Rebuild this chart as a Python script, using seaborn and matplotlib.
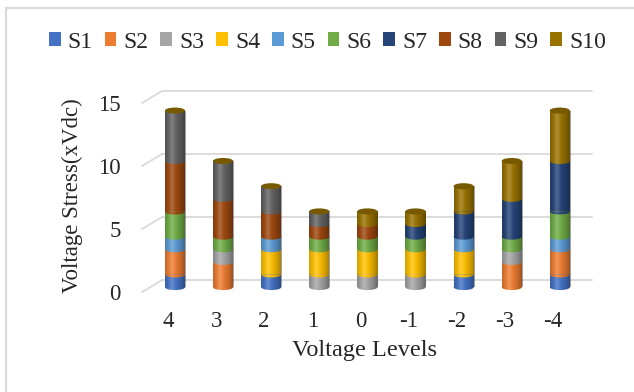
import numpy as np
import pandas as pd
import matplotlib
matplotlib.use("Agg")
import matplotlib.pyplot as plt
import matplotlib.transforms as mtransforms
from matplotlib.patches import Ellipse, Polygon
from matplotlib.lines import Line2D
from matplotlib.colors import to_rgb
import seaborn as sns

levels = ["4", "3", "2", "1", "0", "-1", "-2", "-3", "-4"]
series_names = ["S1", "S2", "S3", "S4", "S5", "S6", "S7", "S8", "S9", "S10"]
s1 = [1, 0, 1, 0, 0, 0, 1, 0, 1]
s2 = [2, 2, 0, 0, 0, 0, 0, 2, 2]
s3 = [0, 1, 0, 1, 1, 1, 0, 1, 0]
s4 = [0, 0, 2, 2, 2, 2, 2, 0, 0]
s5 = [1, 0, 1, 0, 0, 0, 1, 0, 1]
s6 = [2, 1, 0, 1, 1, 1, 0, 1, 2]
s7 = [0, 0, 0, 0, 0, 1, 2, 3, 4]
s8 = [4, 3, 2, 1, 1, 0, 0, 0, 0]
s9 = [4, 3, 2, 1, 0, 0, 0, 0, 0]
s10 = [0, 0, 0, 0, 1, 1, 2, 3, 4]
series_values = [s1, s2, s3, s4, s5, s6, s7, s8, s9, s10]
colors = ["#4472C4", "#ED7D31", "#A5A5A5", "#FFC000", "#5B9BD5",
          "#70AD47", "#264478", "#9E480E", "#636363", "#997300"]
y_ticks = [0, 5, 10, 15]

sns.set_theme(style="white")
plt.rcParams["font.family"] = ["Liberation Serif", "DejaVu Serif"]

W, H = 634, 392
fig = plt.figure(figsize=(W / 100, H / 100), dpi=100)

# axes box in pixels (bars' front plane: 0 at y=287, 12.6 px per unit)
XL, XR = -0.7, 8.7
YB, YT = -0.6, 15.8
ax_left, ax_right = 141.3, 593.5
ax_bottom, ax_top = 294.6, 87.9
ax = fig.add_axes([ax_left / W, 1 - ax_bottom / H,
                   (ax_right - ax_left) / W, (ax_bottom - ax_top) / H])

bar_w = 0.42
bottom = np.zeros(len(levels))
for name, vals, col in zip(series_names, series_values, colors):
    df = pd.DataFrame({"level": levels, "value": vals})
    sns.barplot(data=df, x="level", y="value", order=levels, color=col,
                width=bar_w, bottom=bottom, ax=ax, label=name,
                saturation=1, linewidth=0, zorder=2)
    bottom = bottom + np.array(vals)
totals = bottom

ax.set_xlim(XL, XR)
ax.set_ylim(YB, YT)

# cylinder shading profile across the bar width
u = np.linspace(0, 1, 64)
shade = np.zeros((1, 64, 4))
dark = 0.38 * np.clip(np.abs(u - 0.38) / 0.62, 0, 1) ** 1.6
light = 0.18 * np.exp(-((u - 0.33) / 0.14) ** 2)
alpha = dark + light
shade[0, :, :3] = (light / np.maximum(alpha, 1e-6))[:, None]
shade[0, :, 3] = alpha

ell_h = 0.48  # ellipse height in data units
theta = np.linspace(0, np.pi, 40)


def add_shade(x0, x1, y0, y1, clip):
    im = ax.imshow(shade, extent=(x0, x1, y0, y1), aspect="auto",
                   interpolation="bilinear", zorder=clip.get_zorder() + 0.01)
    im.set_clip_path(clip)


patches = list(ax.patches)
for p in patches:
    h = p.get_height()
    if h <= 0:
        continue
    x0 = p.get_x()
    x1 = x0 + p.get_width()
    y0 = p.get_y()
    y1 = y0 + h
    cx = (x0 + x1) / 2
    add_shade(x0, x1, y0, y1, p)
    # front arc at the bottom of each segment
    arc_x = cx + (bar_w / 2) * np.cos(theta)
    arc_y = y0 - (ell_h / 2) * np.sin(theta)
    poly = Polygon(np.column_stack([np.r_[arc_x, arc_x[::-1]],
                                    np.r_[arc_y, np.full_like(arc_y, y0 + 0.01)]]),
                   closed=True, facecolor=p.get_facecolor(), edgecolor="none",
                   zorder=2.2)
    ax.add_patch(poly)
    add_shade(x0, x1, y0 - ell_h / 2, y0 + 0.01, poly)

# top caps of the cylinders
cap_rgb = np.array(to_rgb(colors[-1])) * 0.78
for i, tot in enumerate(totals):
    cap = Ellipse((i, tot), bar_w, ell_h, facecolor=cap_rgb, edgecolor="none",
                  zorder=2.4)
    ax.add_patch(cap)

# back-wall gridlines with their short floor segments
grid_col = "#D9D9D9"
for t in y_ticks:
    ax.plot([-0.27, 8.67], [t + 0.55, t + 0.55], color=grid_col, lw=1.3,
            zorder=1, clip_on=False)
    ax.plot([-0.686, -0.27], [t - 0.4, t + 0.55], color=grid_col, lw=1.3,
            zorder=1, clip_on=False)

ax.set_yticks(y_ticks)
ax.set_yticklabels([str(t) for t in y_ticks], fontsize=16.5)
ax.tick_params(axis="y", pad=15, length=0)
ax.tick_params(axis="x", pad=12, length=0, labelsize=16.5)
for lab in ax.get_yticklabels():
    lab.set_transform(lab.get_transform() +
                      mtransforms.ScaledTranslation(0, -5 / 100, fig.dpi_scale_trans))
for lab in ax.get_xticklabels():
    lab.set_transform(lab.get_transform() +
                      mtransforms.ScaledTranslation(-7 / 100, 0, fig.dpi_scale_trans))
ax.grid(False)
for sp in ax.spines.values():
    sp.set_visible(False)

ax.set_xlabel("Voltage Levels", fontsize=17.5)
ax.set_ylabel("Voltage Stress(xVdc)", fontsize=16.5)
ax.xaxis.set_label_coords((364 - ax_left) / (ax_right - ax_left),
                          (ax_bottom - 340) / (ax_bottom - ax_top))
ax.yaxis.set_label_coords((83 - ax_left) / (ax_right - ax_left),
                          (ax_bottom - 196) / (ax_bottom - ax_top))

handles, labels = ax.get_legend_handles_labels()
if ax.get_legend() is not None:
    ax.get_legend().remove()
fig.legend(handles, labels, loc="center", bbox_to_anchor=(327.5 / W, 1 - 42 / H),
           ncol=10, frameon=False, fontsize=17, handlelength=0.5,
           handleheight=0.5, handletextpad=0.3, columnspacing=0.5,
           borderpad=0)

# chart frame (left and top edges)
fig.add_artist(Line2D([6 / W, 6 / W], [0, 1 - 8 / H], transform=fig.transFigure,
                      color=grid_col, lw=1.5))
fig.add_artist(Line2D([6 / W, 1], [1 - 8 / H, 1 - 8 / H], transform=fig.transFigure,
                      color=grid_col, lw=1.5))

fig.savefig("out.png", dpi=100)
